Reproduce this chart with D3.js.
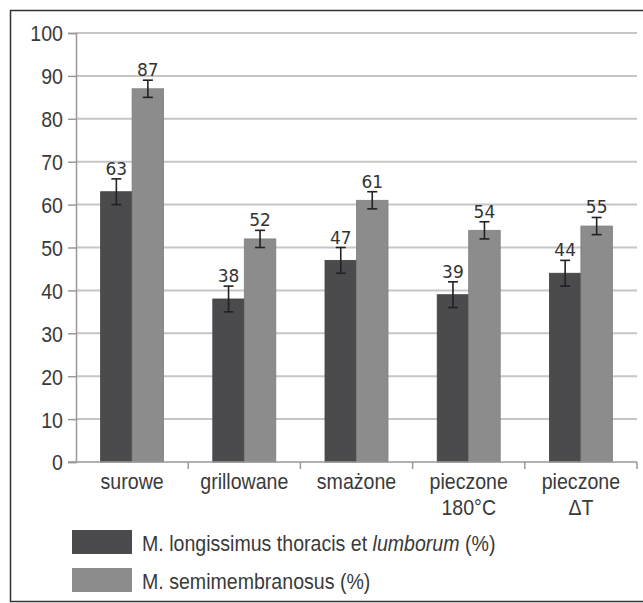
<!DOCTYPE html>
<html>
<head>
<meta charset="utf-8">
<script src="https://cdn.jsdelivr.net/npm/d3@7"></script>
<style>
  body { margin: 0; background: #fff; }
  svg text { font-family: "Liberation Sans Narrow", "Arial Narrow", "Liberation Sans", sans-serif; fill: #3a3a3a; }
  .val { font-family: "DejaVu Sans", "Open Sans", sans-serif; fill: #333; }
</style>
</head>
<body>
<div id="chart"></div>
<script>
const categories = ["surowe", "grillowane", "smażone", "pieczone\n180°C", "pieczone\nΔT"];
const seriesNames = ["M. longissimus thoracis et lumborum (%)", "M. semimembranosus (%)"];
const longissimus = [63, 38, 47, 39, 44];
const semimembranosus = [87, 52, 61, 54, 55];
const longissimusErr = [3, 3, 3, 3, 3];
const semimembranosusErr = [2, 2, 2, 2, 2];
const yTicks = [0, 10, 20, 30, 40, 50, 60, 70, 80, 90, 100];

const W = 643, H = 603;
const margin = { top: 33, right: 6, bottom: 141, left: 76 };
const width = W - margin.left - margin.right;
const height = H - margin.top - margin.bottom;
const colors = ["#4b4a4c", "#8c8c8c"];
const squeeze = "scale(0.89,1)";  // condensed look for the labels
const fs = 22;

const svg = d3.select("#chart").append("svg")
  .attr("width", W).attr("height", H);

// outer frame
svg.append("rect")
  .attr("x", 10.5).attr("y", 10.5)
  .attr("width", W).attr("height", H - 12)
  .attr("fill", "none").attr("stroke", "#333").attr("stroke-width", 1.5);

const g = svg.append("g").attr("transform", `translate(${margin.left},${margin.top})`);

const x = d3.scaleBand().domain(categories).range([0, width]);
const y = d3.scaleLinear().domain([0, 100]).range([height, 0]);
const pairW = 63;
const x1 = d3.scaleBand().domain([0, 1]).range([x.bandwidth() / 2 - pairW / 2, x.bandwidth() / 2 + pairW / 2]);

// gridlines
g.append("g").selectAll("line").data(yTicks.filter(d => d > 0)).enter()
  .append("line")
  .attr("x1", 0).attr("x2", width)
  .attr("y1", d => y(d)).attr("y2", d => y(d))
  .attr("stroke", "#c6c6c6").attr("stroke-width", 2);

const data = categories.map((c, i) => ({
  cat: c,
  vals: [
    { s: 0, v: longissimus[i], e: longissimusErr[i] },
    { s: 1, v: semimembranosus[i], e: semimembranosusErr[i] }
  ]
}));

const groups = g.selectAll("g.grp").data(data).enter()
  .append("g").attr("class", "grp")
  .attr("transform", d => `translate(${x(d.cat)},0)`);

groups.selectAll("rect").data(d => d.vals).enter()
  .append("rect")
  .attr("x", d => x1(d.s))
  .attr("width", x1.bandwidth())
  .attr("y", d => y(d.v))
  .attr("height", d => height - y(d.v))
  .attr("fill", d => colors[d.s])
  .attr("stroke", d => d3.color(colors[d.s]).darker(0.3))
  .attr("stroke-width", 0.8);

// error bars
const eb = groups.selectAll("g.err").data(d => d.vals).enter()
  .append("g").attr("class", "err")
  .attr("transform", d => `translate(${x1(d.s) + x1.bandwidth() / 2},0)`)
  .attr("stroke", "#222").attr("stroke-width", 1.6);
eb.append("line").attr("y1", d => y(d.v + d.e)).attr("y2", d => y(d.v - d.e));
eb.append("line").attr("x1", -5).attr("x2", 5).attr("y1", d => y(d.v + d.e)).attr("y2", d => y(d.v + d.e));
eb.append("line").attr("x1", -5).attr("x2", 5).attr("y1", d => y(d.v - d.e)).attr("y2", d => y(d.v - d.e));

// value labels
groups.selectAll("text.val").data(d => d.vals).enter()
  .append("text").attr("class", "val")
  .attr("x", d => x1(d.s) + x1.bandwidth() / 2)
  .attr("y", d => y(d.v + d.e) - 4)
  .attr("text-anchor", "middle")
  .attr("font-size", 17)
  .text(d => d.v);

// y axis
const yAxis = g.append("g")
  .call(d3.axisLeft(y).tickValues(yTicks).tickSize(8).tickPadding(6));
yAxis.select(".domain").attr("stroke", "#999").attr("stroke-width", 1.5);
yAxis.selectAll(".tick line").attr("stroke", "#999").attr("stroke-width", 1.5);
yAxis.selectAll(".tick text")
  .attr("font-size", fs).attr("dy", "0.36em")
  .attr("x", 0).attr("transform", `translate(-13,0) ${squeeze}`);

// x axis
const xAxis = g.append("g").attr("transform", `translate(0,${height})`);
xAxis.append("line").attr("x1", -8).attr("x2", width)
  .attr("stroke", "#999").attr("stroke-width", 1.5);
xAxis.selectAll("line.tk").data(categories.slice(1).concat(["end"])).enter()
  .append("line").attr("class", "tk")
  .attr("x1", (d, i) => i < categories.length - 1 ? x(d) : width)
  .attr("x2", (d, i) => i < categories.length - 1 ? x(d) : width)
  .attr("y1", 0).attr("y2", 7)
  .attr("stroke", "#999").attr("stroke-width", 1.5);
xAxis.selectAll("text").data(categories).enter()
  .append("text")
  .attr("text-anchor", "middle")
  .attr("font-size", fs)
  .attr("transform", d => `translate(${x(d) + x.bandwidth() / 2},27) ${squeeze}`)
  .each(function (d) {
    d.split("\n").forEach((line, i) => {
      d3.select(this).append("tspan").attr("x", 0).attr("dy", i === 0 ? 0 : 26).text(line);
    });
  });

// legend
const legend = svg.append("g").attr("transform", "translate(72,530)");
const li = legend.selectAll("g").data(seriesNames).enter()
  .append("g").attr("transform", (d, i) => `translate(0,${i * 38})`);
li.append("rect").attr("width", 60).attr("height", 24)
  .attr("fill", (d, i) => colors[i]);
li.append("text").attr("font-size", fs)
  .attr("transform", `translate(70,21) ${squeeze}`)
  .each(function (d, i) {
    const t = d3.select(this);
    if (i === 0) {
      t.append("tspan").text("M. longissimus thoracis et ");
      t.append("tspan").attr("font-style", "italic").text("lumborum");
      t.append("tspan").text(" (%)");
    } else {
      t.text(d);
    }
  });
</script>
</body>
</html>
